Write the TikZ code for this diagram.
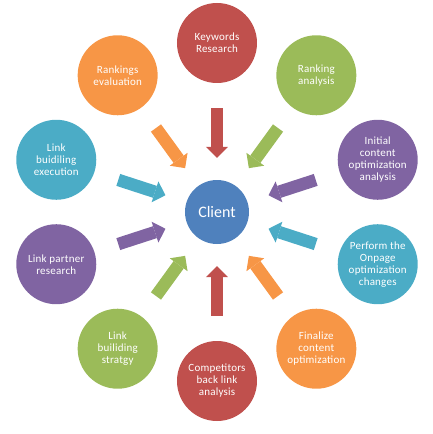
\documentclass[tikz,border=0pt]{standalone}
\usepackage{fontspec}
\setmainfont{Carlito}
\newfontfamily\taskfont{Carlito}[LetterSpace=2]
\usetikzlibrary{arrows.meta}

\definecolor{offred}{HTML}{C0504D}
\definecolor{offgreen}{HTML}{9BBB59}
\definecolor{offpurple}{HTML}{8064A2}
\definecolor{offcyan}{HTML}{4BACC6}
\definecolor{offorange}{HTML}{F79646}
\definecolor{offblue}{HTML}{4F81BD}

\tikzset{
  task/.style={circle,minimum size=80pt,inner sep=0pt,text=white,align=center,
    font=\taskfont\fontsize{11}{12}\selectfont},
  hub/.style={circle,minimum size=64pt,inner sep=0pt,text=white,fill=offblue,
    font=\fontsize{16}{19}\selectfont},
  blockarrow/.style={line width=12.5pt,-{Triangle[width=22pt,length=11pt,line width=0pt]},
    shorten <=25pt,shorten >=22pt}
}

\begin{document}
\begin{tikzpicture}[x=1pt,y=1pt]
    \useasboundingbox (-217,-222) rectangle (215,212);
    \node[hub] (client) at (0,0) {Client};
    % ring of tasks, 36 degrees apart
    \node[task,fill=offred] (kw) at (90:169) {Keywords\\Research};
    \node[task,fill=offgreen] (rankan) at (54:169) {Ranking\\analysis};
    \node[task,fill=offpurple] (initial) at (18:169) {Initial\\content\\optimization\\analysis};
    \node[task,fill=offcyan] (perform) at (-18:169) {Perform the\\Onpage\\optimization\\changes};
    \node[task,fill=offorange] (finalize) at (-54:169) {Finalize\\content\\optimization};
    \node[task,fill=offred] (comp) at (-90:169) {Competitors\\back link\\analysis};
    \node[task,fill=offgreen] (strategy) at (-126:169) {Link\\builiding\\stratgy};
    \node[task,fill=offpurple] (partner) at (-162:169) {Link partner\\research};
    \node[task,fill=offcyan] (execution) at (162:169) {Link\\buidiling\\execution};
    \node[task,fill=offorange] (rankev) at (126:169) {Rankings\\evaluation};
    \foreach \n/\c in {kw/offred,rankan/offgreen,initial/offpurple,perform/offcyan,
      finalize/offorange,comp/offred,strategy/offgreen,partner/offpurple,
      execution/offcyan,rankev/offorange}
      \draw[blockarrow,\c] (\n) -- (client);
  \end{tikzpicture}
\end{document}
